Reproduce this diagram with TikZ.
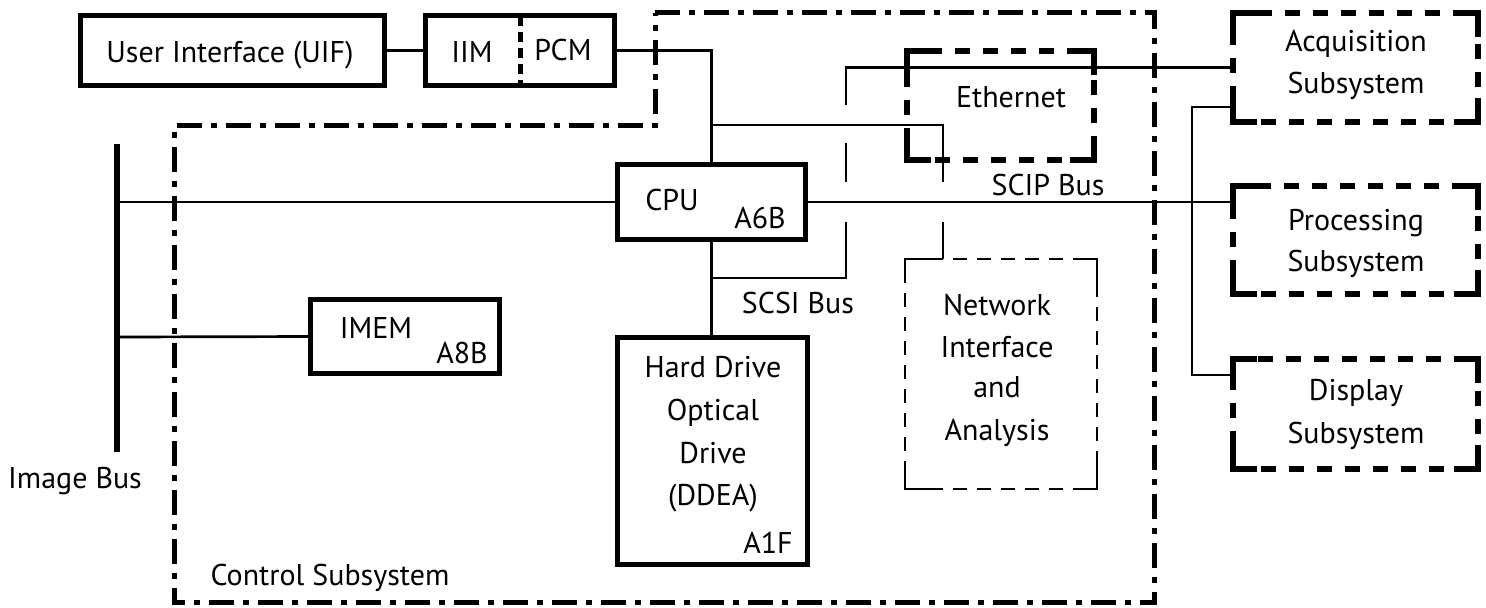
\documentclass[tikz,border=0pt]{standalone}
\usepackage{fontspec}
\setmainfont{PT Sans}
\newcommand\Lcorn[3]{%
  \draw[line width=#3, line join=miter] ([yshift=-#2]#1.north west) -- (#1.north west) -- ([xshift=#2]#1.north west);
  \draw[line width=#3, line join=miter] ([xshift=-#2]#1.north east) -- (#1.north east) -- ([yshift=-#2]#1.north east);
  \draw[line width=#3, line join=miter] ([yshift=#2]#1.south east) -- (#1.south east) -- ([xshift=-#2]#1.south east);
  \draw[line width=#3, line join=miter] ([xshift=#2]#1.south west) -- (#1.south west) -- ([yshift=#2]#1.south west);
}
\begin{document}
\begin{tikzpicture}[x=0.5pt,y=-0.5pt,
  every node/.style={inner sep=0pt, outer sep=0pt},
  txt/.style={anchor=base, font=\fontsize{15}{18}\selectfont},
  solidbox/.style={draw, line width=2.8pt, rectangle},
  thickdash/.style={draw, line width=3pt, rectangle, dash pattern=on 7.5pt off 6.5pt},
  thindash/.style={draw, line width=0.8pt, rectangle, dash pattern=on 7pt off 5pt},
  dashdot/.style={line width=2.5pt, dash pattern=on 12.5pt off 4.5pt on 3pt off 4.5pt},
  wire/.style={line width=1.35pt},
  bus/.style={line width=3pt}]
\fill[white] (0,0) rectangle (1486,607);
\useasboundingbox (0,0) rectangle (1486,607);

% control subsystem outline
\draw[dashdot] (655,12.5) -- (1154,12.5) -- (1154,602) -- (174,602) -- (174,125) -- (655,125) -- cycle;

% boxes
\node[solidbox, minimum width=152pt, minimum height=35pt] (uif) at (232.5,50.5) {};
\node[solidbox, minimum width=94.5pt, minimum height=35pt] (iim) at (520,50.5) {};
\node[solidbox, minimum width=94pt, minimum height=37.5pt] (cpu) at (711.5,202) {};
\node[solidbox, minimum width=94.5pt, minimum height=37pt] (imem) at (405,336.5) {};
\node[solidbox, minimum width=95pt, minimum height=113.5pt] (hdd) at (712.5,451) {};
\node[thickdash, minimum width=93.5pt, minimum height=54.5pt] (eth) at (1000.5,105.5) {};
\node[thindash, minimum width=96pt, minimum height=115pt] (net) at (1001,374) {};
\node[thickdash, minimum width=122.5pt, minimum height=54.5pt] (acq) at (1355.5,67.5) {};
\node[thickdash, minimum width=122.5pt, minimum height=54pt] (proc) at (1355.5,240) {};
\node[thickdash, minimum width=122.5pt, minimum height=55pt] (disp) at (1355.5,414) {};
\Lcorn{eth}{12pt}{3pt}
\Lcorn{acq}{12pt}{3pt}
\Lcorn{proc}{12pt}{3pt}
\Lcorn{disp}{12pt}{3pt}
\Lcorn{net}{12pt}{0.8pt}
\draw[line width=2.5pt, dash pattern=on 5pt off 3pt] (iim.north) -- (iim.south);

% coordinates
\coordinate (ibT) at (117,144);
\coordinate (ibB) at (117,452);
\coordinate (ib1) at (117,202);
\coordinate (ib2) at (117,337);
\coordinate (j1) at (711.5,125);
\coordinate (e1) at (943,125);
\coordinate (e1a) at (943,182);
\coordinate (e1b) at (943,222);
\coordinate (j2) at (711.5,278);
\coordinate (s1) at (846,278);
\coordinate (s1a) at (846,222);
\coordinate (s1b) at (846,182);
\coordinate (s1c) at (846,143);
\coordinate (s1d) at (846,105);
\coordinate (s1e) at (846,67.5);
\coordinate (r1) at (1192,107);
\coordinate (r2) at (1192,375);

% connectors
\draw[bus] (ibT) -- (ibB);
\draw[wire] (ib1) -- (cpu.west);
\draw[wire] (ib2) -- (imem.west);
\draw[wire] (uif.east) -- (iim.west);
\draw[wire] (iim.east) -| (cpu.north);
\draw[wire] (cpu.south) -- (hdd.north -| cpu.south);
\draw[wire] (j1) -- (e1) -- (e1a);
\draw[wire] (e1b) -- (e1b |- net.north);
\draw[wire] (j2) -- (s1) -- (s1a);
\draw[wire] (s1b) -- (s1c);
\draw[wire] (s1d) -- (s1e) -- (acq.west);
\draw[wire] (r1 -| acq.west) -- (r1) -- (r2) -- (r2 -| disp.west);
\draw[wire] (cpu.east) -- (cpu.east -| proc.west);

% labels
\node[txt] (tUIF) at (230,62) {User Interface (UIF)};
\node[txt] (tIIM) at (472,62) {IIM};
\node[txt] (tPCM) at (563,60) {PCM};
\node[txt] (tEth) at (1011,107) {Ethernet};
\node[txt] (tSCIP) at (1048,195) {SCIP Bus};
\node[txt] (tCPU) at (672,210) {CPU};
\node[txt] (tA6B) at (760,228) {A6B};
\node[txt] (tSCSI) at (798,313) {SCSI Bus};
\node[txt] (tIMEM) at (376,338) {IMEM};
\node[txt] (tA8B) at (462,363) {A8B};
\node[txt] (tHD1) at (713,377) {Hard Drive};
\node[txt] (tHD2) at (713,420) {Optical};
\node[txt] (tHD3) at (713,463) {Drive};
\node[txt] (tHD4) at (713,505) {(DDEA)};
\node[txt] (tA1F) at (768,553) {A1F};
\node[txt] (tNet1) at (997,315) {Network};
\node[txt] (tNet2) at (997,357) {Interface};
\node[txt] (tNet3) at (997,397) {and};
\node[txt] (tNet4) at (997,440) {Analysis};
\node[txt] (tImg) at (75,488) {Image Bus};
\node[txt] (tCtl) at (330,585) {Control Subsystem};
\node[txt] (tAcq1) at (1356,51) {Acquisition};
\node[txt] (tAcq2) at (1356,93) {Subsystem};
\node[txt] (tPro1) at (1356,230) {Processing};
\node[txt] (tPro2) at (1356,271) {Subsystem};
\node[txt] (tDis1) at (1356,400) {Display};
\node[txt] (tDis2) at (1356,443) {Subsystem};
\end{tikzpicture}
\end{document}
